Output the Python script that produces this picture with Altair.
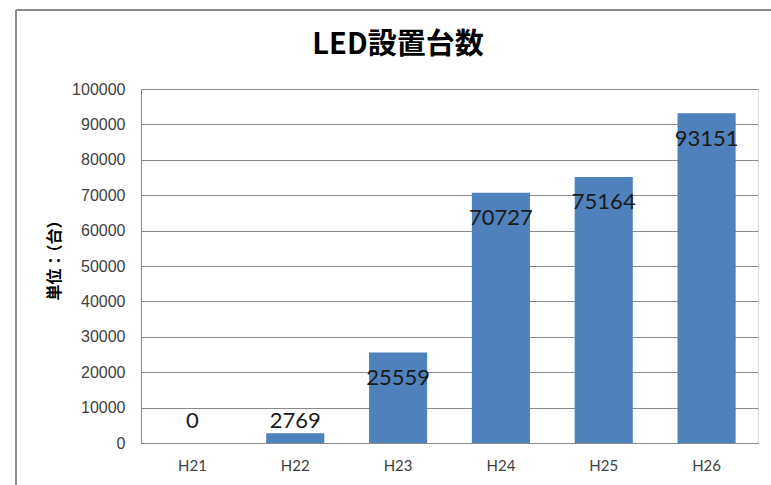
import altair as alt
import pandas as pd

categories = ["H21", "H22", "H23", "H24", "H25", "H26"]
values = [0, 2769, 25559, 70727, 75164, 93151]
y_ticks = [0, 10000, 20000, 30000, 40000, 50000, 60000, 70000, 80000, 90000, 100000]
title_text = "LED設置台数"

df = pd.DataFrame({"year": categories, "count": values})

W, H = 617, 354
BAR = "#4F81BD"
GRID = "#8a8a8a"

xaxis = alt.Axis(title=None, labelAngle=0, ticks=False, labelPadding=15,
                 labelFontSize=15, labelColor="#404040", labelFont="Lato",
                 domainColor=GRID, grid=False)
xscale = alt.Scale(paddingInner=0.435, paddingOuter=0.2175)
yscale = alt.Scale(domain=[0, 100000], nice=False)
yaxis = alt.Axis(values=y_ticks, title="単位：（台）", ticks=False,
                 labelOverlap=False, tickCount=20,
                 labelPadding=16, labelFontSize=16, labelColor="#404040",
                 labelFont="Liberation Sans", format="d",
                 gridColor=GRID, domainColor=GRID,
                 titleFont="Noto Sans CJK JP", titleFontSize=16,
                 titleFontWeight="bold", titleColor="#000000",
                 titleX=-87, titleY=167, titleAlign="center",
                 titleBaseline="middle", titleAngle=270)

bars = alt.Chart(df).mark_bar(color=BAR).encode(
    x=alt.X("year:N", sort=categories, scale=xscale, axis=xaxis),
    y=alt.Y("count:Q", scale=yscale, axis=yaxis),
)

labels = alt.Chart(df).transform_calculate(
    lpos="max(datum.count - 7200, 6200)"
).mark_text(fontSize=22, font="Lato", color="#1a1a1a", baseline="middle").encode(
    x=alt.X("year:N", sort=categories, scale=xscale, axis=xaxis),
    y=alt.Y("lpos:Q", scale=yscale, axis=yaxis),
    text=alt.Text("count:Q", format="d"),
)

title = alt.Chart(pd.DataFrame({"t": [title_text]})).mark_text(
    font="Noto Sans CJK JP", fontSize=29, fontWeight="bold", color="#000000",
    align="center", baseline="middle"
).encode(x=alt.value(257), y=alt.value(-44), text="t:N")

frame_top = alt.Chart(df).mark_rule(color="#8c8c8c", strokeWidth=2).encode(
    x=alt.value(-125), x2=alt.value(640), y=alt.value(-79)
)
frame_left = alt.Chart(df).mark_rule(color="#8c8c8c", strokeWidth=2).encode(
    x=alt.value(-125), y=alt.value(-79), y2=alt.value(410)
)

chart = alt.layer(bars, labels, title, frame_top, frame_left).properties(
    width=W, height=H,
    autosize=alt.AutoSizeParams(type="none"),
    padding={"left": 141, "top": 89, "right": 13, "bottom": 42},
).configure_view(stroke=None).configure(background="white")

chart.save("out.html", embed_options={"renderer": "svg", "actions": False})
